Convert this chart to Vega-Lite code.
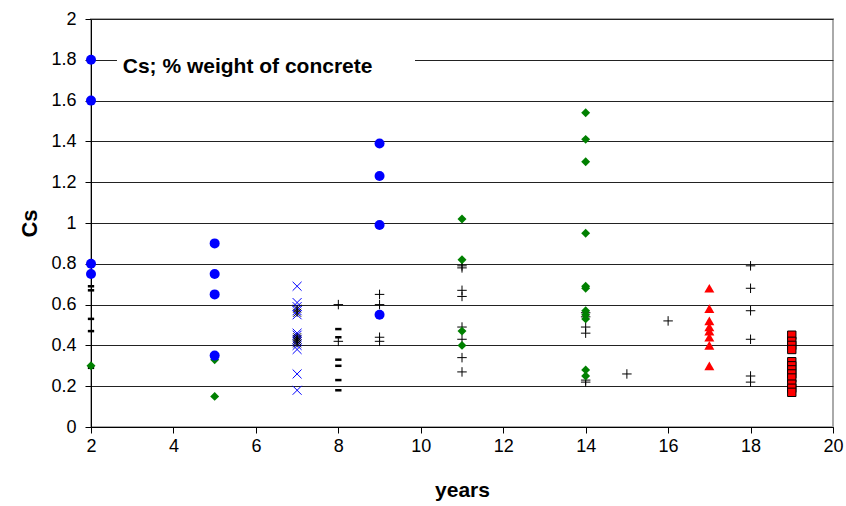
{
  "$schema": "https://vega.github.io/schema/vega-lite/v6.json",
  "autosize": "none",
  "padding": {"left": 91, "top": 19, "right": 13, "bottom": 79},
  "width": 742,
  "height": 408,
  "background": "white",
  "config": {
    "font": "Liberation Sans",
    "view": {"stroke": "#aaaaaa", "strokeWidth": 2},
    "axis": {"labelFont": "Liberation Sans", "titleFont": "Liberation Sans", "labelColor": "black", "titleColor": "black", "domainColor": "black", "tickColor": "black"}
  },
  "datasets": {
    "pts": [
      {"years": 2, "cs": 1.8, "series": "circle"},
      {"years": 2, "cs": 1.6, "series": "circle"},
      {"years": 2, "cs": 0.8, "series": "circle"},
      {"years": 2, "cs": 0.75, "series": "circle"},
      {"years": 5, "cs": 0.9, "series": "circle"},
      {"years": 5, "cs": 0.75, "series": "circle"},
      {"years": 5, "cs": 0.65, "series": "circle"},
      {"years": 5, "cs": 0.35, "series": "circle"},
      {"years": 9, "cs": 1.39, "series": "circle"},
      {"years": 9, "cs": 1.23, "series": "circle"},
      {"years": 9, "cs": 0.99, "series": "circle"},
      {"years": 9, "cs": 0.55, "series": "circle"},
      {"years": 2, "cs": 0.3, "series": "diamond"},
      {"years": 5, "cs": 0.33, "series": "diamond"},
      {"years": 5, "cs": 0.15, "series": "diamond"},
      {"years": 11, "cs": 1.02, "series": "diamond"},
      {"years": 11, "cs": 0.82, "series": "diamond"},
      {"years": 11, "cs": 0.47, "series": "diamond"},
      {"years": 11, "cs": 0.4, "series": "diamond"},
      {"years": 14, "cs": 1.54, "series": "diamond"},
      {"years": 14, "cs": 1.41, "series": "diamond"},
      {"years": 14, "cs": 1.3, "series": "diamond"},
      {"years": 14, "cs": 0.95, "series": "diamond"},
      {"years": 14, "cs": 0.69, "series": "diamond"},
      {"years": 14, "cs": 0.68, "series": "diamond"},
      {"years": 14, "cs": 0.57, "series": "diamond"},
      {"years": 14, "cs": 0.55, "series": "diamond"},
      {"years": 14, "cs": 0.53, "series": "diamond"},
      {"years": 14, "cs": 0.28, "series": "diamond"},
      {"years": 14, "cs": 0.25, "series": "diamond"},
      {"years": 2, "cs": 0.69, "series": "dash"},
      {"years": 2, "cs": 0.67, "series": "dash"},
      {"years": 2, "cs": 0.53, "series": "dash"},
      {"years": 2, "cs": 0.47, "series": "dash"},
      {"years": 2, "cs": 0.29, "series": "dash"},
      {"years": 8, "cs": 0.48, "series": "dash"},
      {"years": 8, "cs": 0.44, "series": "dash"},
      {"years": 8, "cs": 0.33, "series": "dash"},
      {"years": 8, "cs": 0.3, "series": "dash"},
      {"years": 8, "cs": 0.23, "series": "dash"},
      {"years": 8, "cs": 0.18, "series": "dash"},
      {"years": 7, "cs": 0.69, "series": "xcross"},
      {"years": 7, "cs": 0.61, "series": "xcross"},
      {"years": 7, "cs": 0.59, "series": "xcross"},
      {"years": 7, "cs": 0.57, "series": "xcross"},
      {"years": 7, "cs": 0.55, "series": "xcross"},
      {"years": 7, "cs": 0.46, "series": "xcross"},
      {"years": 7, "cs": 0.45, "series": "xcross"},
      {"years": 7, "cs": 0.43, "series": "xcross"},
      {"years": 7, "cs": 0.42, "series": "xcross"},
      {"years": 7, "cs": 0.4, "series": "xcross"},
      {"years": 7, "cs": 0.38, "series": "xcross"},
      {"years": 7, "cs": 0.26, "series": "xcross"},
      {"years": 7, "cs": 0.18, "series": "xcross"},
      {"years": 7, "cs": 0.58, "series": "star"},
      {"years": 7, "cs": 0.56, "series": "star"},
      {"years": 7, "cs": 0.44, "series": "star"},
      {"years": 7, "cs": 0.43, "series": "star"},
      {"years": 7, "cs": 0.42, "series": "star"},
      {"years": 7, "cs": 0.41, "series": "star"},
      {"years": 8, "cs": 0.6, "series": "plus"},
      {"years": 8, "cs": 0.42, "series": "plus"},
      {"years": 9, "cs": 0.65, "series": "plus"},
      {"years": 9, "cs": 0.6, "series": "plus"},
      {"years": 9, "cs": 0.44, "series": "plus"},
      {"years": 9, "cs": 0.42, "series": "plus"},
      {"years": 11, "cs": 0.79, "series": "plus"},
      {"years": 11, "cs": 0.78, "series": "plus"},
      {"years": 11, "cs": 0.67, "series": "plus"},
      {"years": 11, "cs": 0.64, "series": "plus"},
      {"years": 11, "cs": 0.49, "series": "plus"},
      {"years": 11, "cs": 0.43, "series": "plus"},
      {"years": 11, "cs": 0.34, "series": "plus"},
      {"years": 11, "cs": 0.27, "series": "plus"},
      {"years": 14, "cs": 0.56, "series": "plus"},
      {"years": 14, "cs": 0.54, "series": "plus"},
      {"years": 14, "cs": 0.49, "series": "plus"},
      {"years": 14, "cs": 0.46, "series": "plus"},
      {"years": 14, "cs": 0.23, "series": "plus"},
      {"years": 14, "cs": 0.22, "series": "plus"},
      {"years": 15, "cs": 0.26, "series": "plus"},
      {"years": 16, "cs": 0.52, "series": "plus"},
      {"years": 18, "cs": 0.79, "series": "plus"},
      {"years": 18, "cs": 0.68, "series": "plus"},
      {"years": 18, "cs": 0.57, "series": "plus"},
      {"years": 18, "cs": 0.43, "series": "plus"},
      {"years": 18, "cs": 0.25, "series": "plus"},
      {"years": 18, "cs": 0.22, "series": "plus"},
      {"years": 17, "cs": 0.68, "series": "triangle"},
      {"years": 17, "cs": 0.58, "series": "triangle"},
      {"years": 17, "cs": 0.52, "series": "triangle"},
      {"years": 17, "cs": 0.49, "series": "triangle"},
      {"years": 17, "cs": 0.47, "series": "triangle"},
      {"years": 17, "cs": 0.44, "series": "triangle"},
      {"years": 17, "cs": 0.4, "series": "triangle"},
      {"years": 17, "cs": 0.3, "series": "triangle"},
      {"years": 19, "cs": 0.45, "series": "square"},
      {"years": 19, "cs": 0.42, "series": "square"},
      {"years": 19, "cs": 0.4, "series": "square"},
      {"years": 19, "cs": 0.38, "series": "square"},
      {"years": 19, "cs": 0.32, "series": "square"},
      {"years": 19, "cs": 0.3, "series": "square"},
      {"years": 19, "cs": 0.28, "series": "square"},
      {"years": 19, "cs": 0.26, "series": "square"},
      {"years": 19, "cs": 0.24, "series": "square"},
      {"years": 19, "cs": 0.21, "series": "square"},
      {"years": 19, "cs": 0.19, "series": "square"},
      {"years": 19, "cs": 0.17, "series": "square"}
    ],
    "note": [
      {"x1": 2.63, "x2": 9.86, "y1": 1.72, "y2": 1.88, "xt": 2.77, "yt": 1.735, "label": "Cs; % weight of concrete"}
    ]
  },
  "data": {"name": "pts"},
  "encoding": {
    "x": {
      "field": "years", "type": "quantitative",
      "scale": {"domain": [2, 20], "nice": false, "zero": false},
      "axis": {"title": "years", "values": [2, 4, 6, 8, 10, 12, 14, 16, 18, 20], "grid": false, "tickSize": 6, "labelFontSize": 18, "labelPadding": 4, "titleFontSize": 21, "titleFontWeight": "bold", "titlePadding": 24, "labelFlush": false}
    },
    "y": {
      "field": "cs", "type": "quantitative",
      "scale": {"domain": [0, 2], "nice": false},
      "axis": {"title": "Cs", "values": [0, 0.2, 0.4, 0.6, 0.8, 1, 1.2, 1.4, 1.6, 1.8, 2], "format": "~g", "grid": true, "gridColor": "#222222", "gridWidth": 1, "tickSize": 6, "labelFontSize": 18, "labelPadding": 9, "titleFontSize": 22, "titleFontWeight": "bold", "titlePadding": 9, "labelFlush": false}
    }
  },
  "layer": [
    {
      "data": {"name": "note"},
      "mark": {"type": "rect", "fill": "white", "stroke": null},
      "encoding": {
        "x": {"field": "x1", "type": "quantitative"},
        "x2": {"field": "x2"},
        "y": {"field": "y1", "type": "quantitative"},
        "y2": {"field": "y2"}
      }
    },
    {
      "data": {"name": "note"},
      "mark": {"type": "text", "align": "left", "baseline": "alphabetic", "fontSize": 21, "fontWeight": "bold", "font": "Liberation Sans", "color": "black"},
      "encoding": {
        "x": {"field": "xt", "type": "quantitative"},
        "y": {"field": "yt", "type": "quantitative"},
        "text": {"field": "label"}
      }
    },
    {
      "transform": [{"filter": "datum.series === 'dash'"}],
      "mark": {"type": "point", "shape": "stroke", "color": "black", "strokeWidth": 2.5, "size": 40, "opacity": 1}
    },
    {
      "transform": [{"filter": "datum.series === 'plus'"}],
      "mark": {"type": "point", "shape": "M-1,0L1,0M0,-1L0,1", "color": "black", "strokeWidth": 1, "size": 90, "opacity": 1}
    },
    {
      "transform": [{"filter": "datum.series === 'xcross'"}],
      "mark": {"type": "point", "shape": "M-1,-1L1,1M-1,1L1,-1", "color": "#0000ff", "strokeWidth": 1, "size": 80, "opacity": 1}
    },
    {
      "transform": [{"filter": "datum.series === 'star'"}],
      "mark": {"type": "point", "shape": "M-1,-1L1,1M-1,1L1,-1M0,-1L0,1", "color": "black", "strokeWidth": 1, "size": 64, "opacity": 1}
    },
    {
      "transform": [{"filter": "datum.series === 'diamond'"}],
      "mark": {"type": "point", "shape": "diamond", "filled": true, "color": "#008000", "size": 80, "opacity": 1}
    },
    {
      "transform": [{"filter": "datum.series === 'circle'"}],
      "mark": {"type": "point", "shape": "circle", "filled": true, "color": "#0000ff", "size": 100, "opacity": 1}
    },
    {
      "transform": [{"filter": "datum.series === 'triangle'"}],
      "mark": {"type": "point", "shape": "triangle-up", "filled": true, "color": "#ff0000", "size": 100, "opacity": 1}
    },
    {
      "transform": [{"filter": "datum.series === 'square'"}],
      "mark": {"type": "point", "shape": "square", "filled": true, "fill": "#ff0000", "stroke": "black", "strokeWidth": 1, "size": 70, "opacity": 1}
    }
  ]
}
